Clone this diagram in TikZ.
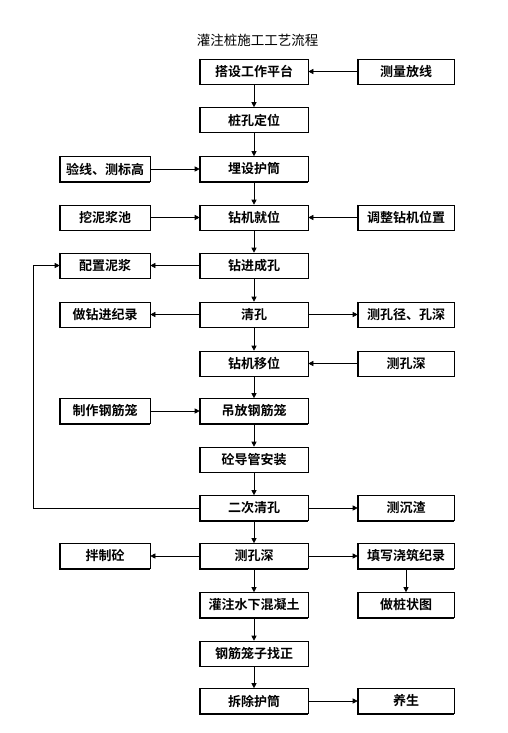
\documentclass[tikz,border=0pt]{standalone}
\usepackage{fontspec}
\setmainfont{Noto Sans CJK SC}[BoldFont={Noto Sans CJK SC Bold}]
\usetikzlibrary{arrows.meta}
\begin{document}
\begin{tikzpicture}[x=1pt,y=-1pt,
  box/.style={draw, line width=0.6pt, minimum height=25pt, inner sep=0pt,
    font=\bfseries\fontsize{13}{13}\selectfont},
  cbox/.style={box, minimum width=108pt},
  lbox/.style={box, minimum width=90pt},
  rbox/.style={box, minimum width=96pt},
  arr/.style={line width=0.6pt, -{Triangle[length=5pt,width=5pt]}},
  ln/.style={line width=0.6pt}]
\useasboundingbox (0,0) rectangle (507,733);
\node[font=\fontsize{13.5}{13.5}\selectfont] (title) at (257.5,40) {灌注桩施工工艺流程};
% centre column
\node[cbox] (c1)  at (254,71.5) {搭设工作平台};
\node[cbox] (c2)  at (254,120) {桩孔定位};
\node[cbox] (c3)  at (254,169) {埋设护筒};
\node[cbox] (c4)  at (254,217.5) {钻机就位};
\node[cbox] (c5)  at (254,265.5) {钻进成孔};
\node[cbox] (c6)  at (254,314.5) {清孔};
\node[cbox] (c7)  at (254,363.5) {钻机移位};
\node[cbox] (c8)  at (254,411) {吊放钢筋笼};
\node[cbox] (c9)  at (254,459.5) {砼导管安装};
\node[cbox] (c10) at (254,508) {二次清孔};
\node[cbox] (c11) at (254,556) {测孔深};
\node[cbox] (c12) at (254,605) {灌注水下混凝土};
\node[cbox] (c13) at (254,653.5) {钢筋笼子找正};
\node[cbox] (c14) at (254,701) {拆除护筒};
% left column
\node[lbox] (l3)  at (105,169) {验线、测标高};
\node[lbox] (l4)  at (105,217.5) {挖泥浆池};
\node[lbox] (l5)  at (105,265.5) {配置泥浆};
\node[lbox] (l6)  at (105,314.5) {做钻进纪录};
\node[lbox] (l8)  at (105,411) {制作钢筋笼};
\node[lbox] (l11) at (105,556) {拌制砼};
% right column
\node[rbox] (r1)  at (406,71.5) {测量放线};
\node[rbox] (r4)  at (406,217.5) {调整钻机位置};
\node[rbox] (r6)  at (406,314.5) {测孔径、孔深};
\node[rbox] (r7)  at (406,363.5) {测孔深};
\node[rbox] (r10) at (406,508) {测沉渣};
\node[rbox] (r11) at (406,556) {填写浇筑纪录};
\node[rbox] (r12) at (406,605) {做桩状图};
\node[rbox] (r14) at (406,701) {养生};
% heavier left and bottom edges
\foreach \n in {c1,c2,c3,c4,c5,c6,c7,c8,c9,c10,c11,c12,c13,c14,l3,l4,l5,l6,l8,l11,r1,r4,r6,r7,r10,r11,r12,r14}
  \draw[line width=1.4pt] (\n.north west) -- (\n.south west) -- (\n.south east);
% main chain
\foreach \a/\b in {c1/c2,c2/c3,c3/c4,c4/c5,c5/c6,c6/c7,c7/c8,c8/c9,c9/c10,c10/c11,c11/c12,c12/c13,c13/c14}
  \draw[arr] (\a) -- (\b);
% side connections
\draw[arr] (r1) -- (c1);
\draw[arr] (l3) -- (c3);
\draw[arr] (l4) -- (c4);
\draw[arr] (r4) -- (c4);
\draw[arr] (c5) -- (l5);
\draw[arr] (c6) -- (l6);
\draw[arr] (c6) -- (r6);
\draw[arr] (r7) -- (c7);
\draw[arr] (l8) -- (c8);
\draw[arr] (c10) -- (r10);
\draw[arr] (c11) -- (l11);
\draw[arr] (c11) -- (r11);
\draw[arr] (r11) -- (r12);
\draw[arr] (c14) -- (r14);
% loop back
\coordinate (lp) at (33,0);
\draw[arr] (c10.west) -- (c10.west -| lp) -- (l5.west -| lp) -- (l5.west);
\end{tikzpicture}
\end{document}
